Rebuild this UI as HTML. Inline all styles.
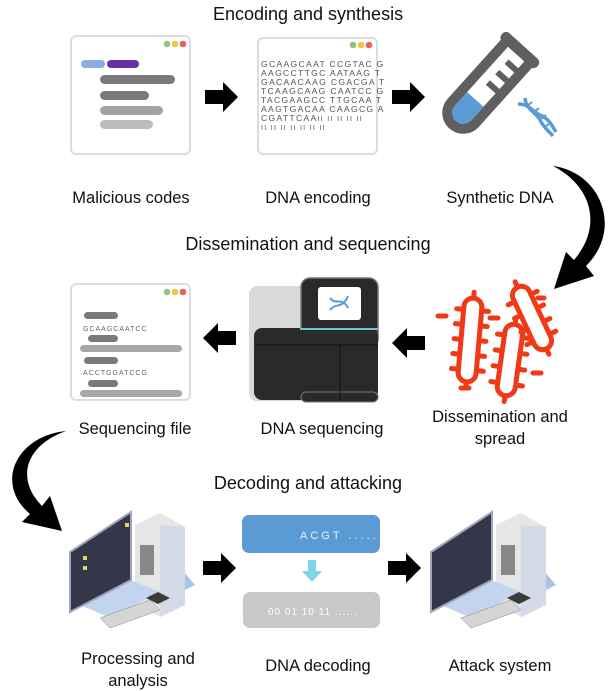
<!DOCTYPE html>
<html><head><meta charset="utf-8"><style>
html,body{margin:0;padding:0;background:#fff;}
svg{display:block;font-family:"Liberation Sans",Arial,sans-serif;}
</style></head><body>
<svg width="616" height="691" viewBox="0 0 616 691" xmlns="http://www.w3.org/2000/svg">
<defs>
<g id="dots"><circle cx="0" cy="0" r="3.3" fill="#8fc47a"/><circle cx="8" cy="0" r="3.3" fill="#f0c53c"/><circle cx="16" cy="0" r="3.3" fill="#e8615f"/></g>
<g id="rarrow"><polygon points="0,-7 18,-7 18,-15 33,0 18,15 18,7 0,7" fill="#000"/></g>
<g id="larrow"><polygon points="33,-7 15,-7 15,-15 0,0 15,15 15,7 33,7" fill="#000"/></g>
</defs>
<g font-size="18" fill="#111" text-anchor="middle">
<text x="308" y="20">Encoding and synthesis</text>
<text x="308" y="250">Dissemination and sequencing</text>
<text x="308" y="489">Decoding and attacking</text>
</g>
<g font-size="16.5" fill="#111" text-anchor="middle">
<text x="131" y="203">Malicious codes</text>
<text x="318" y="203">DNA encoding</text>
<text x="500" y="203">Synthetic DNA</text>
<text x="135" y="434">Sequencing file</text>
<text x="322" y="434">DNA sequencing</text>
<text x="500" y="422">Dissemination and</text>
<text x="500" y="444">spread</text>
<text x="138" y="664">Processing and</text>
<text x="138" y="686">analysis</text>
<text x="318" y="671">DNA decoding</text>
<text x="500" y="671">Attack system</text>
</g>
<rect x="71" y="36" width="119" height="118" rx="5" fill="#fff" stroke="#ddd" stroke-width="2"/>
<use href="#dots" x="167" y="44"/>
<rect x="81" y="60" width="24" height="8" rx="4" fill="#8aaee0"/>
<rect x="107" y="60" width="32" height="8" rx="4" fill="#6a2fa5"/>
<rect x="100" y="75" width="75" height="9" rx="4.5" fill="#7a7a7a"/>
<rect x="100" y="91" width="49" height="9" rx="4.5" fill="#7a7a7a"/>
<rect x="100" y="106" width="63" height="9" rx="4.5" fill="#a3a3a3"/>
<rect x="100" y="120" width="53" height="9" rx="4.5" fill="#bdbdbd"/>
<use href="#rarrow" x="205" y="97"/>
<rect x="258" y="38" width="119" height="116" rx="5" fill="#fff" stroke="#ddd" stroke-width="2"/>
<use href="#dots" x="353" y="45"/>
<g font-size="8.6" fill="#555" letter-spacing="1.3">
<text x="261" y="67">GCAAGCAAT CCGTAC G</text>
<text x="261" y="76">AAGCCTTGC AATAAG T</text>
<text x="261" y="85">GACAACAAG CGACGA T</text>
<text x="261" y="94">TCAAGCAAG CAATCC G</text>
<text x="261" y="103">TACGAAGCC TTGCAA T</text>
<text x="261" y="112">AAGTGACAA CAAGCG A</text>
<text x="261" y="121">CGATTCAA<tspan font-size="7">II II II II II</tspan></text>
<text x="261" y="130" font-size="7">II II II II II II II</text>
</g>
<use href="#rarrow" x="392" y="97"/>
<g transform="translate(482,92) rotate(42)">
<rect x="-24" y="-62" width="48" height="11" rx="5" fill="#5f5f5f"/>
<path d="M-16,-54 L-16,28 A16,16 0 0 0 16,28 L16,-54" fill="none" stroke="#5f5f5f" stroke-width="10"/>
<path d="M-11,10 L11,10 L11,28 A11,11 0 0 1 -11,28 Z" fill="#5b9bd5"/>
<rect x="-2" y="-42" width="14" height="6" fill="#5f5f5f"/>
<rect x="-2" y="-28" width="14" height="6" fill="#5f5f5f"/>
<rect x="-2" y="-14" width="14" height="6" fill="#5f5f5f"/>
</g>
<g stroke="#5b9bd5" stroke-width="3.5" fill="none">
<path d="M518,104 C530,104 532,112 542,116 C550,120 552,126 556,132"/>
<path d="M525,98 C526,110 536,112 540,120 C544,128 548,130 553,136"/>
<path d="M527,106 l5,-4 M534,112 l5,-4 M541,119 l5,-4 M546,126 l5,-4" stroke-width="2"/>
</g>
<path d="M553,166 C600,172 624,228 586,266 L594,276 L554,289 L566,252 L574,260 C603,226 592,186 553,166 Z" fill="#000"/>
<rect x="71" y="284" width="119" height="116" rx="5" fill="#fff" stroke="#ddd" stroke-width="2"/>
<use href="#dots" x="167" y="292"/>
<rect x="84" y="312" width="34" height="7" rx="3.5" fill="#7a7a7a"/>
<text x="83" y="331" font-size="7" fill="#666" letter-spacing="1">GCAAGCAATCC</text>
<rect x="88" y="335" width="30" height="7" rx="3.5" fill="#7a7a7a"/>
<rect x="80" y="345" width="102" height="7" rx="3.5" fill="#a8a8a8"/>
<rect x="84" y="357" width="34" height="7" rx="3.5" fill="#7a7a7a"/>
<text x="83" y="375" font-size="7" fill="#666" letter-spacing="1">ACCTGGATCCG</text>
<rect x="88" y="380" width="30" height="7" rx="3.5" fill="#7a7a7a"/>
<rect x="80" y="390" width="102" height="7" rx="3.5" fill="#a8a8a8"/>
<use href="#larrow" x="203" y="338"/>
<rect x="249" y="286" width="64" height="115" rx="8" fill="#d9d9d9"/>
<rect x="301" y="278" width="77" height="70" rx="9" fill="#2a2a2a" stroke="#777" stroke-width="1.5"/>
<rect x="318" y="287" width="43" height="33" rx="3" fill="#fff"/>
<g stroke="#5b9bd5" stroke-width="2" fill="none"><path d="M330,310 C336,302 342,310 348,296"/><path d="M330,298 C336,306 342,296 348,308"/></g>
<rect x="254" y="328" width="124" height="72" rx="8" fill="#2a2a2a"/>
<rect x="301" y="392" width="77" height="10" rx="5" fill="#2a2a2a" stroke="#777" stroke-width="1"/>
<line x1="300" y1="329" x2="378" y2="329" stroke="#6fc5d8" stroke-width="2"/>
<line x1="255" y1="345" x2="378" y2="345" stroke="#111" stroke-width="1"/>
<line x1="340" y1="345" x2="340" y2="400" stroke="#111" stroke-width="1"/>
<use href="#larrow" x="392" y="343"/>
<g fill="none" stroke="#f03a17" stroke-width="5" stroke-linecap="round">
<g transform="translate(470,340) rotate(5)"><rect x="-9" y="-42" width="18" height="84" rx="9"/>
<path d="M-9,-30 h-7 M-9,-15 h-7 M-9,0 h-7 M-9,15 h-7 M-9,30 h-7 M9,-30 h7 M9,-15 h7 M9,0 h7 M9,15 h7 M9,30 h7 M0,-42 v-6 M0,42 v6"/></g>
<g transform="translate(510,360) rotate(8)"><rect x="-9" y="-36" width="18" height="72" rx="9"/>
<path d="M-9,-24 h-7 M-9,-8 h-7 M-9,8 h-7 M-9,24 h-7 M9,-24 h7 M9,-8 h7 M9,8 h7 M9,24 h7 M0,-36 v-6 M0,36 v6"/></g>
<g transform="translate(532,318) rotate(-25)"><rect x="-9" y="-34" width="18" height="68" rx="9"/>
<path d="M-9,-22 h-7 M-9,-7 h-7 M-9,8 h-7 M-9,22 h-7 M9,-22 h7 M9,-7 h7 M9,8 h7 M9,22 h7 M0,-34 v-6 M0,34 v6"/></g>
<path d="M438,316 h8 M490,318 h8 M461,388 h8 M533,373 h8 M538,298 h6"/>
</g>
<g stroke="#fff" stroke-width="1" fill="none"><line x1="470" y1="310" x2="471" y2="370"/><line x1="511" y1="335" x2="513" y2="385"/><line x1="524" y1="300" x2="540" y2="336"/></g>
<path d="M66,431 C16,436 -6,484 30,514 L22,522 L62,531 L50,496 L42,506 C16,480 24,446 66,431 Z" fill="#000"/>
<g id="pc1">
<polygon points="148,580 178,565 195,585 165,600" fill="#aac4e8"/>
<polygon points="135,525 160,513 185,527 185,605 160,617 135,604" fill="#e6e6e6"/>
<polygon points="160,525 185,527 185,605 160,617" fill="#d3d9e6"/>
<rect x="140" y="545" width="14" height="30" fill="#888"/>
<polygon points="78,604 130,580 160,592 110,618" fill="#c3d4ee"/>
<polygon points="70,552 131,512 131,580 70,612" fill="#34364a" stroke="#9fa5bd" stroke-width="2"/>
<polygon points="100,618 150,600 160,610 110,628" fill="#d5d5d5" stroke="#888" stroke-width="0.5"/>
<polygon points="146,598 158,592 170,598 158,604" fill="#3a3a3a"/>
</g>
<rect x="83" y="556" width="4" height="4" fill="#e6d36b"/><rect x="83" y="566" width="4" height="4" fill="#e6d36b"/><rect x="125" y="523" width="4" height="4" fill="#e6d36b"/>
<use href="#pc1" x="361" y="0"/>
<use href="#rarrow" x="203" y="568"/>
<rect x="242" y="515" width="138" height="38" rx="7" fill="#5b9bd5"/>
<text x="300" y="539" font-size="11" fill="#e8f2ff" letter-spacing="3">ACGT ......</text>
<polygon points="308,560 316,560 316,571 322,571 312,582 302,571 308,571" fill="#7fd3ea"/>
<rect x="243" y="592" width="137" height="36" rx="7" fill="#c8c8c8"/>
<text x="268" y="615" font-size="10" fill="#fff" letter-spacing="1">00 01 10 11 ......</text>
<use href="#rarrow" x="388" y="568"/>
</svg>
</body></html>
